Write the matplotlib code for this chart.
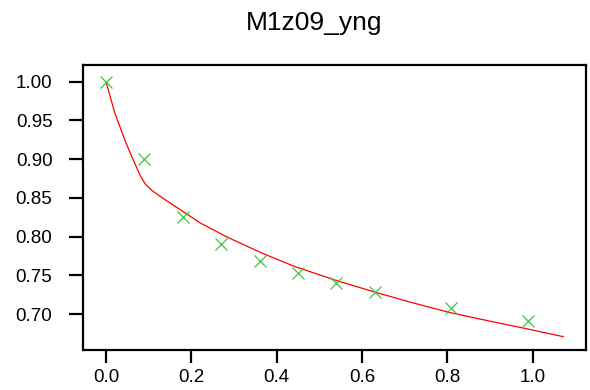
import matplotlib
matplotlib.use("Agg")
import matplotlib.pyplot as plt

plt.rcParams['font.family'] = ['Liberation Sans', 'DejaVu Sans']

title = "M1z09_yng"
obs_x = [0.0, 0.09, 0.18, 0.27, 0.36, 0.45, 0.54, 0.63, 0.81, 0.99]
obs_y = [1.000, 0.900, 0.826, 0.790, 0.768, 0.753, 0.740, 0.728, 0.708, 0.691]
fit_x = [0.0, 0.021, 0.046, 0.064, 0.080, 0.092, 0.107, 0.127, 0.146, 0.1735,
         0.220, 0.282, 0.365, 0.440, 0.537, 0.627, 0.717, 0.807, 0.900,
         0.971, 1.072]
fit_y = [1.000, 0.959, 0.922, 0.899, 0.879, 0.868, 0.860, 0.852, 0.845, 0.835,
         0.818, 0.800, 0.779, 0.762, 0.744, 0.729, 0.715, 0.702, 0.691,
         0.683, 0.671]
x_ticks = [0.0, 0.2, 0.4, 0.6, 0.8, 1.0]
y_ticks = [0.70, 0.75, 0.80, 0.85, 0.90, 0.95, 1.00]

W, H = 590, 390
fig = plt.figure(figsize=(W / 100, H / 100), dpi=100)
ax = fig.add_axes([83 / W, (H - 350) / H, (586 - 83) / W, (350 - 65) / H])

ax.plot(fit_x, fit_y, color='#ff0000', lw=0.9, zorder=2)
ax.plot(obs_x, obs_y, ls='none', marker='x', ms=9, mew=0.9,
        color='#3cc83c', zorder=3)

ax.set_xlim(-0.0539, 1.1254)
ax.set_ylim(0.6538, 1.0215)
ax.set_xticks(x_ticks)
ax.set_xticklabels([f"{v:.1f}" for v in x_ticks])
ax.set_yticks(y_ticks)
ax.set_yticklabels([f"{v:.2f}" for v in y_ticks])

for s in ax.spines.values():
    s.set_linewidth(1.6)
    s.set_color('black')
ax.tick_params(axis='x', direction='out', length=9.5, width=1.6, pad=4,
               labelsize=13.5)
ax.tick_params(axis='y', direction='out', length=10, width=1.6, pad=12,
               labelsize=13.5)

fig.text(314 / W, 1 - 23 / H, title, ha='center', va='center', fontsize=19)

fig.savefig("out.png", dpi=100)
